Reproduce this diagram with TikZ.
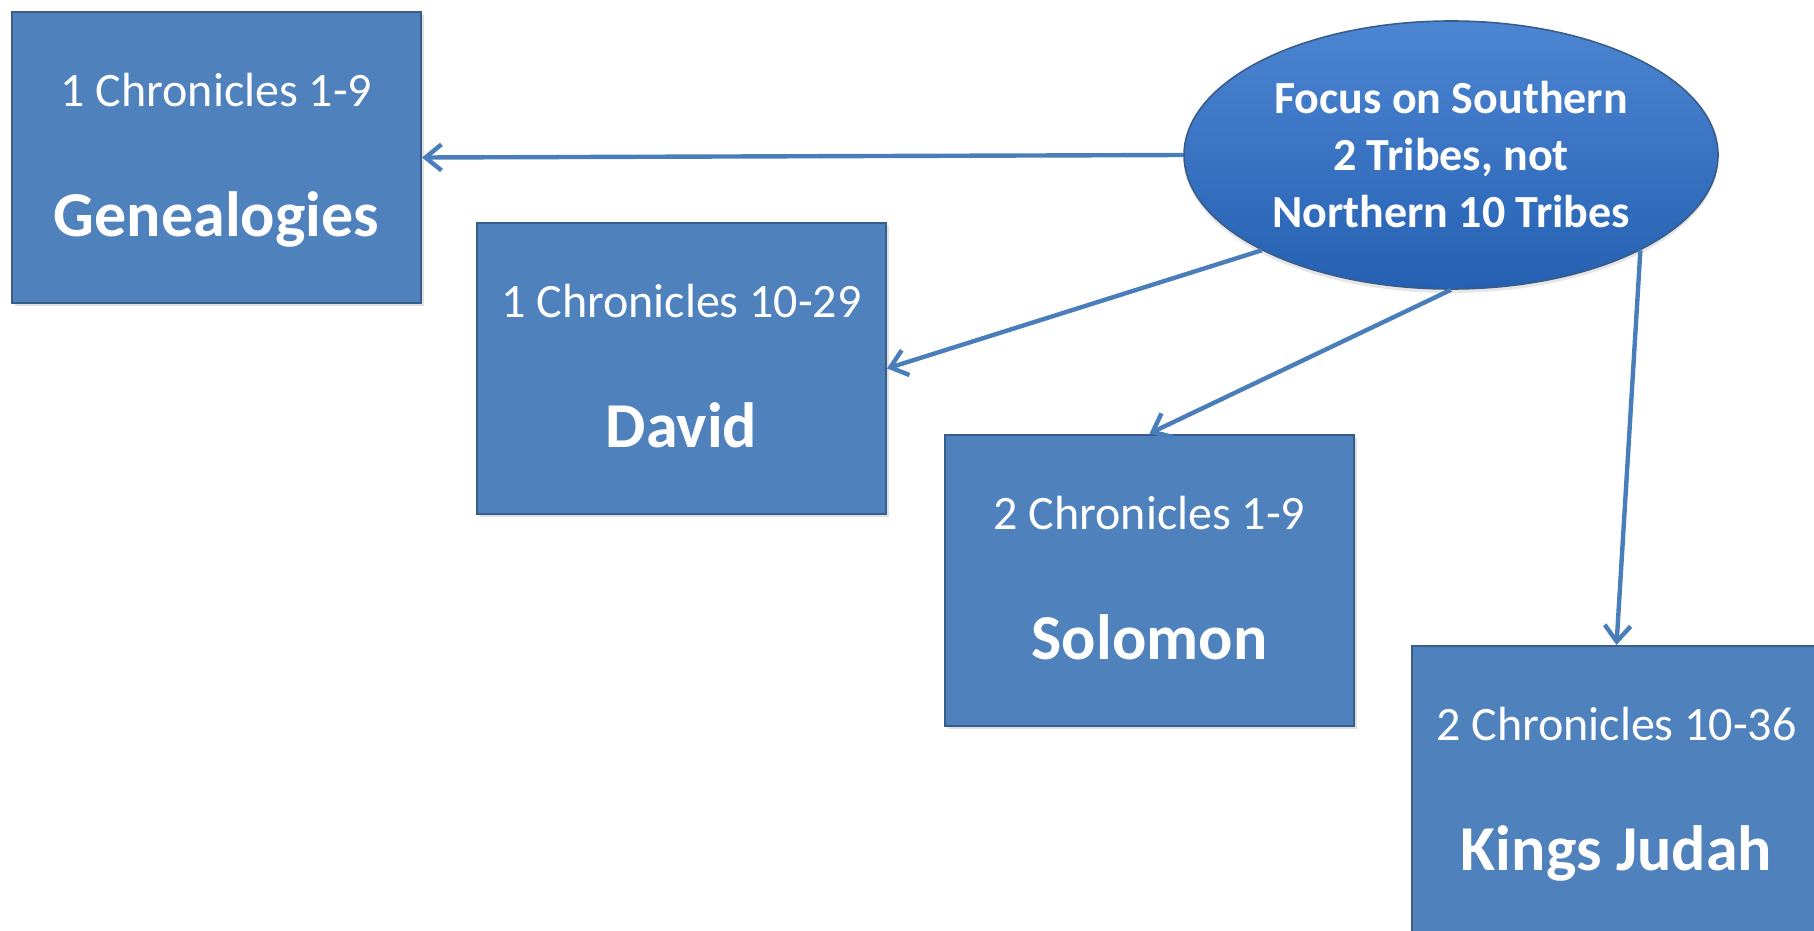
\documentclass[tikz,border=0pt]{standalone}
\usepackage{fontspec}
\setmainfont{Carlito}
\usetikzlibrary{arrows.meta,shapes.geometric,shadows}
\definecolor{boxblue}{RGB}{79,129,189}
\definecolor{boxline}{RGB}{56,93,138}
\definecolor{arrowblue}{RGB}{74,126,187}
\definecolor{focustop}{RGB}{76,134,210}
\definecolor{focusbot}{RGB}{38,96,178}
\tikzset{
  bookbox/.style={draw=boxline, line width=1pt, fill=boxblue,
    minimum width=204.5pt, minimum height=145.5pt, inner sep=0pt,
    drop shadow={shadow xshift=1.5pt, shadow yshift=-1.5pt, opacity=0.25}},
  reftext/.style={text=white, font=\fontsize{24}{28}\selectfont, anchor=base},
  nametext/.style={text=white, font=\bfseries\fontsize{32}{38}\selectfont, anchor=base},
  link/.style={draw=arrowblue, line width=2.2pt, -{Straight Barb[length=8pt,width=13pt]}}
}
\begin{document}
\begin{tikzpicture}[x=0.5pt,y=-0.5pt]
\useasboundingbox (0,0) rectangle (1814,931);
\coordinate (c-gen) at (216.5,157.5);
\coordinate (c-dav) at (681.5,368.5);
\coordinate (c-sol) at (1149.5,580);
\coordinate (c-kin) at (1616.5,791.5);
\node[ellipse, draw=boxline, line width=0.8pt, top color=focustop, bottom color=focusbot,
  minimum width=267pt, minimum height=134pt, inner sep=0pt, align=center, text=white,
  font=\bfseries\fontsize{23}{28.5}\selectfont,
  drop shadow={shadow xshift=0pt, shadow yshift=-2pt, opacity=0.2}] (focus) at (1451,155)
  {Focus on Southern\\2 Tribes, not\\Northern 10 Tribes};
\foreach \n/\r/\t in {gen/1 Chronicles 1-9/Genealogies, dav/1 Chronicles 10-29/David,
  sol/2 Chronicles 1-9/Solomon, kin/2 Chronicles 10-36/Kings Judah}
{ \node[bookbox] (\n) at (c-\n) {};
  \node[reftext] (\n-ref) at ([yshift=25.5pt]\n.center) {\r};
  \node[nametext] (\n-name) at ([yshift=-39.5pt]\n.center) {\t};};
\draw[link] (focus.west) -- (gen.east);
\draw[link] (focus.south west) -- (dav.east);
\draw[link] (focus.south) -- (sol.north);
\draw[link] (focus.south east) -- (kin.north);
\end{tikzpicture}
\end{document}
